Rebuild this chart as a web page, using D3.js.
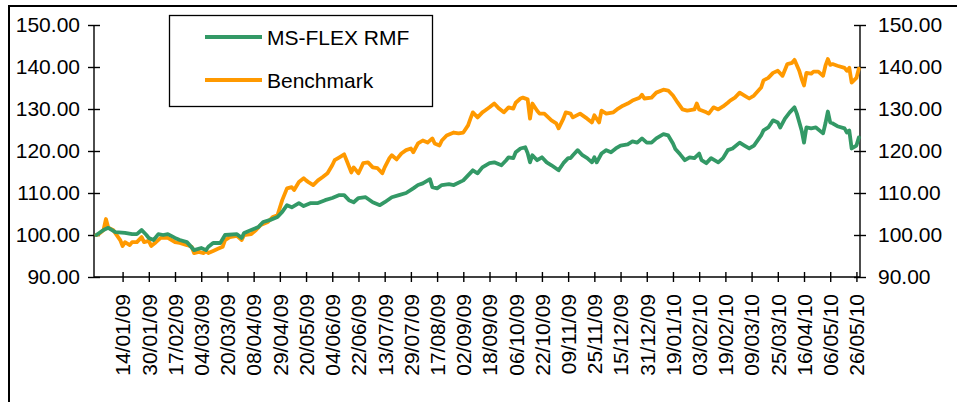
<!DOCTYPE html>
<html>
<head>
<meta charset="utf-8">
<script src="https://cdn.jsdelivr.net/npm/d3@7"></script>
<style>
  body { margin: 0; background: #fff; }
  svg { display: block; font-family: "Liberation Sans", Arial, sans-serif; }
</style>
</head>
<body>
<div id="chart"></div>
<script>
// tick labels on the category axis (every 11th trading day)
var tickDays = [11, 22, 33, 44, 55, 66, 77, 88, 99, 110, 121, 132, 143, 154, 165,
    176, 187, 198, 209, 220, 231, 242, 253, 264, 275, 286, 297, 308, 319];
var tickLabels = ["14/01/09", "30/01/09", "17/02/09", "04/03/09", "20/03/09", "08/04/09",
    "29/04/09", "20/05/09", "04/06/09", "22/06/09", "13/07/09", "29/07/09", "17/08/09",
    "02/09/09", "18/09/09", "06/10/09", "22/10/09", "09/11/09", "25/11/09", "15/12/09",
    "31/12/09", "19/01/10", "03/02/10", "19/02/10", "09/03/10", "25/03/10", "16/04/10",
    "06/05/10", "26/05/10"];

var yTicks = [90, 100, 110, 120, 130, 140, 150];

var seriesNames = ["MS-FLEX RMF", "Benchmark"];
var seriesColors = ["#339966", "#ff9900"];

// [trading day, value]
var fund = [[0,100],[3,101.2],[5,101.7],[8,100.7],[12,100.5],[15,100.2],[17,100.2],[19,101.2],
    [21,100],[22,99.3],[24,98.8],[26,100.2],[28,100],[30,100.2],[33,99.3],[35,98.8],[38,98.3],
    [41,96.4],[44,96.9],[46,96.4],[47,97.2],[49,98.1],[52,98.1],[54,100],[59,100.2],[61,99.3],
    [62,100.5],[65,101.2],[68,101.9],[70,103.1],[73,103.6],[76,104.3],[78,105.5],[80,107.1],
    [82,106.6],[85,107.6],[87,106.9],[90,107.6],[93,107.6],[96,108.3],[99,108.8],[102,109.5],
    [104,109.5],[106,108.3],[108,107.8],[110,108.8],[113,109],[116,107.8],[119,107.1],
    [121,107.8],[124,109],[127,109.5],[130,110],[133,111.1],[135,111.9],[137,112.3],[140,113.3],
    [141,111.4],[143,111.1],[145,111.9],[148,112.1],[150,111.9],[154,113],[156,114.2],
    [158,115.4],[160,114.7],[162,116.1],[165,117.1],[167,117.3],[170,116.6],[172,117.8],
    [173,118.5],[175,118.3],[176,119.7],[178,120.6],[180,120.9],[181,119.5],[182,117.3],
    [183,119],[185,117.8],[187,118.5],[189,117.3],[191,116.6],[194,115.4],[196,117.1],
    [198,118.3],[199,118.3],[200,119],[202,120.2],[204,119],[206,118.3],[208,117.3],[209,118.5],
    [210,117.3],[212,119.4],[214,120.2],[216,119.7],[218,120.6],[220,121.3],[223,121.6],
    [225,122.3],[227,122],[229,123],[231,122],[233,122],[235,123],[238,124],[240,123.7],
    [242,121.8],[243,120.5],[245,119.2],[247,117.8],[249,118.5],[251,118.3],[253,119.4],
    [254,117.8],[256,117.1],[258,118.3],[261,117.3],[263,118.3],[265,120.2],[267,120.6],
    [270,122],[272,121.3],[274,120.6],[276,121.3],[279,123.7],[280,124.9],[282,125.6],
    [284,127.3],[286,126.8],[287,125.6],[289,127.7],[291,129.2],[293,130.4],[294,128.9],
    [296,124.9],[297,122],[298,125.6],[300,125.4],[302,125.6],[305,124.2],[306,126.6],
    [307,129.4],[308,126.8],[309,126.6],[311,125.9],[314,125.4],[315,124.4],[316,124.9],
    [317,120.6],[319,121.3],[320,123.2]];

var bench = [[0,100],[1,100.2],[3,101.2],[4,103.8],[5,101.7],[7,101.2],[10,98.8],[11,97.4],
    [12,98.3],[14,97.6],[15,98.3],[17,98.3],[19,99.5],[20,98.3],[22,98.6],[23,97.4],[25,98.3],
    [27,99.3],[30,99.3],[33,98.3],[35,98.1],[38,97.6],[40,97.2],[41,95.7],[43,96],[45,95.7],
    [46,96.2],[47,95.7],[49,96.2],[51,96.7],[53,97.2],[54,98.8],[56,99.5],[59,99.8],[61,98.8],
    [62,100],[65,100.2],[67,101.2],[69,102.4],[72,103.1],[74,104.3],[76,104.7],[78,108.3],
    [80,111.1],[82,111.4],[83,110.7],[85,112.6],[87,113.5],[88,113],[89,112.6],[91,111.9],
    [93,113],[95,113.8],[97,114.7],[99,116.6],[100,117.8],[102,118.5],[104,119.2],[105,117.8],
    [107,114.9],[108,116.1],[110,114.7],[111,115.9],[112,117.1],[114,117.3],[116,116.1],
    [118,115.9],[120,114.7],[121,116.1],[123,118.3],[124,119],[126,118],[128,119.4],[130,120.2],
    [132,120.6],[133,119.7],[135,121.8],[137,122.5],[139,122],[141,123],[142,121.8],[144,121.3],
    [145,122.5],[147,123.7],[150,124.4],[152,124.2],[154,124.4],[156,126.1],[157,127.7],
    [158,129.2],[160,128],[162,129.2],[163,129.6],[165,130.4],[167,131.3],[169,130.1],
    [171,129.2],[173,130.4],[175,130.1],[176,131.5],[178,132.5],[179,132.7],[181,132.3],
    [182,127.7],[183,131.3],[185,129.6],[186,128.9],[188,128.9],[191,127.3],[193,126.6],
    [194,125.4],[196,127.7],[197,129.2],[199,128.9],[200,128],[203,128.9],[206,127.7],
    [208,126.8],[209,128.5],[211,126.8],[212,129.6],[214,128.9],[217,129.2],[219,130.1],
    [221,130.8],[223,131.3],[225,132],[228,132.7],[229,133.4],[230,132.5],[233,132.7],
    [235,133.9],[238,134.6],[240,134.4],[242,133.2],[244,131.5],[246,129.9],[248,129.6],
    [251,129.9],[252,131.3],[253,129.9],[256,129.2],[257,128.9],[259,130.4],[261,129.9],
    [263,130.6],[265,131.5],[266,132],[268,132.7],[270,133.9],[272,133.2],[274,132.5],
    [276,133.2],[279,135.1],[280,136.8],[282,137.4],[284,138.6],[286,139.1],[288,137.9],
    [290,140.7],[292,141],[293,141.7],[295,139.1],[296,137.2],[297,135.6],[298,138.6],
    [300,138.4],[301,138.9],[303,138.9],[305,137.9],[306,140.3],[307,141.9],[308,140.5],
    [309,140.7],[311,140.3],[314,139.8],[315,139.1],[316,139.8],[317,136.3],[319,137.4],
    [320,139.6]];

var W = 957, H = 402;
var plot = { left: 94, right: 860, top: 25, bottom: 277 };

var svg = d3.select("#chart")
    .append("svg")
        .attr("width", W)
        .attr("height", H);

// outer frame (only top and left edges show)
svg.append("path")
    .attr("d", "M9," + H + "V6H" + W)
    .attr("fill", "none")
    .attr("stroke", "#000")
    .attr("stroke-width", 2);

var x = d3.scaleLinear()
    .domain([-1, 320.5])
    .range([plot.left, plot.right]);

var y = d3.scaleLinear()
    .domain([90, 150])
    .range([plot.bottom, plot.top]);

var fmt = d3.format(".2f");

// Left axis
var yAxisLeft = svg.append("g")
    .attr("transform", "translate(" + plot.left + ",0)")
    .call(d3.axisLeft(y).tickValues(yTicks).tickFormat(fmt).tickSize(6).tickPadding(8));

// Right axis
var yAxisRight = svg.append("g")
    .attr("transform", "translate(" + plot.right + ",0)")
    .call(d3.axisRight(y).tickValues(yTicks).tickFormat(fmt).tickSize(6).tickPadding(12));

// X axis
var xAxis = svg.append("g")
    .attr("transform", "translate(0," + plot.bottom + ")")
    .call(d3.axisBottom(x).tickValues(tickDays)
        .tickFormat(function(d, i){ return tickLabels[i]; })
        .tickSize(5));

[yAxisLeft, yAxisRight, xAxis].forEach(function(g) {
    g.select(".domain").attr("stroke", "#000").attr("stroke-width", 1.4);
    g.selectAll(".tick line").attr("stroke", "#000").attr("stroke-width", 1.4);
    g.selectAll(".tick text")
        .attr("fill", "#000")
        .attr("font-size", "21px")
        .attr("font-family", "Liberation Sans, Arial, sans-serif");
});

// ticks cross the axis lines
yAxisLeft.selectAll(".tick line").attr("x1", 6);
yAxisRight.selectAll(".tick line").attr("x1", -6);
xAxis.selectAll(".tick line").attr("y1", -5);
xAxis.select(".domain").attr("d", "M" + plot.left + ",0H" + plot.right);
yAxisLeft.select(".domain").attr("d", "M0," + plot.top + "V" + plot.bottom);
yAxisRight.select(".domain").attr("d", "M0," + plot.top + "V" + plot.bottom);

xAxis.selectAll(".tick text")
    .attr("transform", "rotate(-90)")
    .attr("text-anchor", "end")
    .attr("x", -17)
    .attr("y", 0)
    .attr("dy", "0.35em");

// Lines
var line = d3.line()
    .x(function(d){ return x(d[0]); })
    .y(function(d){ return y(d[1]); });

[bench, fund].forEach(function(data, i) {
    svg.append("path")
        .datum(data)
        .attr("fill", "none")
        .attr("stroke", i == 0 ? seriesColors[1] : seriesColors[0])
        .attr("stroke-width", 3.8)
        .attr("stroke-linejoin", "round")
        .attr("stroke-linecap", "round")
        .attr("d", line);
});

// Legend
var legend = svg.append("g");
legend.append("rect")
    .attr("x", 169.5).attr("y", 15.5)
    .attr("width", 263).attr("height", 91)
    .attr("fill", "#fff")
    .attr("stroke", "#000")
    .attr("stroke-width", 1.3);

seriesNames.forEach(function(name, i) {
    var ly = 37 + i * 43;
    legend.append("line")
        .attr("x1", 205).attr("x2", 262)
        .attr("y1", ly).attr("y2", ly)
        .attr("stroke", seriesColors[i])
        .attr("stroke-width", 3.8);
    legend.append("text")
        .attr("x", 267).attr("y", ly + 8)
        .attr("font-size", "21px")
        .attr("fill", "#000")
        .text(name);
});
</script>
</body>
</html>
